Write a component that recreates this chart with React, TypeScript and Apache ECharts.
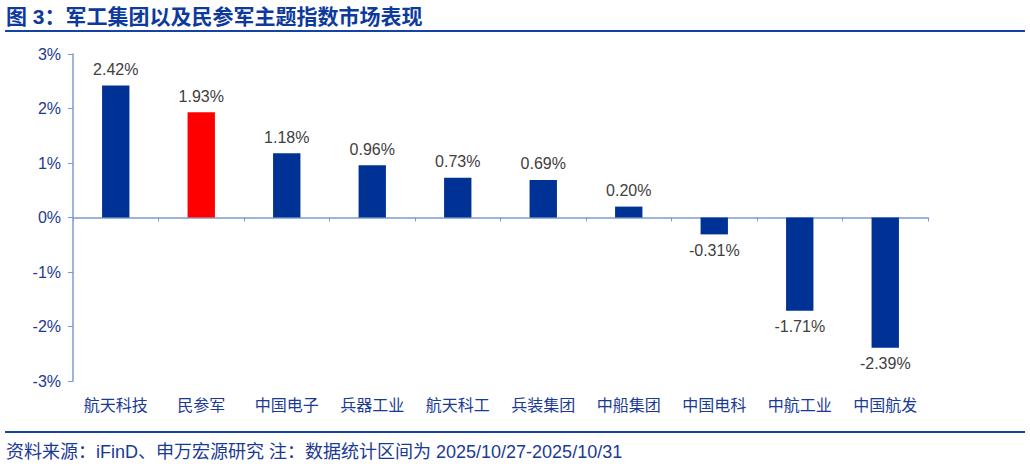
import React, { useEffect, useRef } from "react";
import * as echarts from "echarts";

const categories = ["航天科技", "民参军", "中国电子", "兵器工业", "航天科工", "兵装集团", "中船集团", "中国电科", "中航工业", "中国航发"];
const values = [2.42, 1.93, 1.18, 0.96, 0.73, 0.69, 0.2, -0.31, -1.71, -2.39];
const highlight = "民参军";
const titleText = "图 3：军工集团以及民参军主题指数市场表现";
const sourceText = "资料来源：iFinD、申万宏源研究 注：数据统计区间为 2025/10/27-2025/10/31";

const FONT = "'Liberation Sans', Arial, 'Noto Sans CJK SC', sans-serif";
const BLUE = "#003296";
const TEXT_BLUE = "#1a3a94";
const TITLE_BLUE = "#0d3a9c";
const RULE = "#1443a5";
const AXIS = "#7d9ccc";

export default function App() {
  const ref = useRef<HTMLDivElement>(null);
  useEffect(() => {
    const chart = echarts.init(ref.current!, undefined, { renderer: "svg" });
    chart.setOption({
      animation: false,
      grid: { left: 73, right: 102, top: 54, bottom: 87 },
      xAxis: [
        {
          type: "category",
          data: categories,
          axisLine: { onZero: true, lineStyle: { color: AXIS, width: 1.5 } },
          axisTick: { show: true, length: 4, lineStyle: { color: AXIS } },
          axisLabel: { show: false },
        },
        {
          type: "category",
          data: categories,
          position: "bottom",
          axisLine: { show: false, onZero: false },
          axisTick: { show: false },
          axisLabel: { show: true, color: TEXT_BLUE, fontSize: 16, fontFamily: FONT, margin: 16 },
        },
      ],
      yAxis: {
        type: "value",
        min: -3,
        max: 3,
        interval: 1,
        splitLine: { show: false },
        axisLine: { show: true, lineStyle: { color: AXIS, width: 1.5 } },
        axisTick: { show: true, length: 5, lineStyle: { color: AXIS } },
        axisLabel: { formatter: (v: number) => v + "%", color: TEXT_BLUE, fontSize: 16, fontFamily: FONT, margin: 12 },
      },
      graphic: [
        { type: "text", left: 6, top: 6, style: { text: titleText, fontSize: 21, fontWeight: "bold", fill: TITLE_BLUE, fontFamily: FONT } },
        { type: "line", shape: { x1: 5, y1: 31, x2: 1025, y2: 31 }, style: { stroke: RULE, lineWidth: 2 } },
        { type: "line", shape: { x1: 5, y1: 432, x2: 1025, y2: 432 }, style: { stroke: RULE, lineWidth: 2 } },
        { type: "text", left: 6, top: 443, style: { text: sourceText, fontSize: 18, fill: TEXT_BLUE, fontFamily: FONT } },
      ],
      series: [
        {
          type: "bar",
          barWidth: "32%",
          data: values.map((v, i) => ({
            value: v,
            itemStyle: { color: categories[i] === highlight ? "#ff0000" : BLUE },
            label: { position: v >= 0 ? "top" : "bottom" },
          })),
          label: {
            show: true,
            formatter: (p: any) => p.value.toFixed(2) + "%",
            color: "#404040",
            fontSize: 16,
            fontFamily: FONT,
            distance: 8,
          },
        },
      ],
    });
    return () => chart.dispose();
  }, []);
  return <div ref={ref} style={{ width: 1030, height: 468, position: "absolute", left: 0, top: 0 }} />;
}
